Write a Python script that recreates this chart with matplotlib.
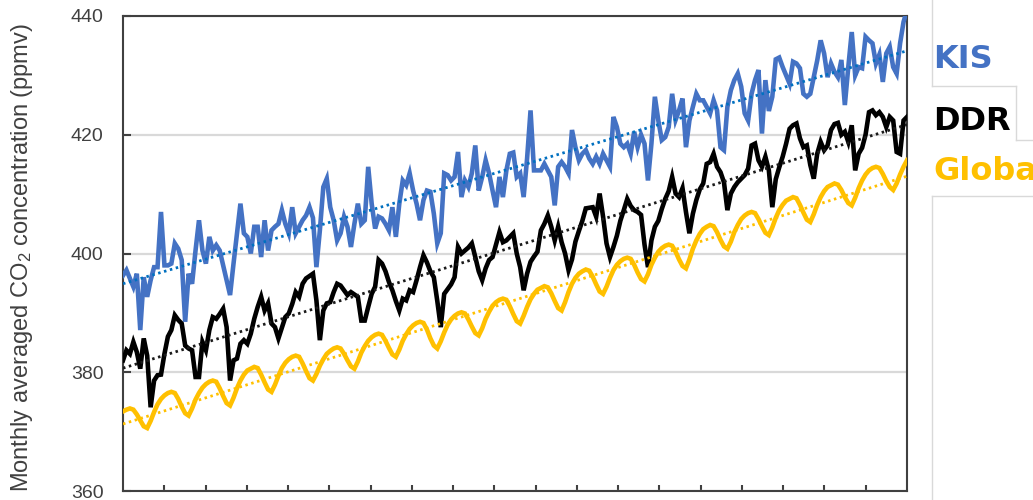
import numpy as np
import matplotlib
matplotlib.use("Agg")
import matplotlib.pyplot as plt
from matplotlib.lines import Line2D

plt.rcParams['font.family'] = ['Liberation Sans', 'DejaVu Sans']
plt.rcParams['mathtext.default'] = 'regular'

# Monthly averaged CO2 (ppmv), 19 years x 12 months
kis = [
    396.3, 397.2, 395.8, 394.4, 396.6, 387.1, 396.0, 392.7, 395.5, 397.7, 397.7, 407.0,
    398.0, 398.0, 398.3, 401.7, 400.8, 398.9, 388.5, 396.6, 394.9, 400.5, 405.6, 400.5,
    398.3, 402.8, 400.5, 401.4, 400.5, 398.0, 395.5, 393.0, 398.3, 403.4, 408.4, 403.4,
    402.8, 400.0, 404.5, 404.5, 399.4, 405.6, 400.5, 403.9, 404.5, 405.0, 407.3, 405.0,
    403.4, 407.8, 403.4, 404.5, 405.6, 406.4, 407.8, 406.0, 397.7, 403.9, 411.2, 412.6,
    407.8, 405.6, 402.2, 403.4, 406.2, 404.5, 401.1, 405.0, 408.4, 405.0, 405.6, 414.6,
    408.4, 404.2, 406.2, 405.9, 405.0, 403.9, 407.8, 402.8, 408.4, 412.3, 411.5, 413.5,
    410.6, 408.4, 405.6, 409.0, 410.6, 410.4, 406.7, 401.7, 403.4, 413.5, 413.2, 412.3,
    412.9, 417.1, 409.5, 412.3, 411.2, 413.5, 418.2, 410.6, 412.9, 415.7, 413.5, 410.6,
    407.8, 412.9, 409.5, 414.0, 416.8, 417.0, 412.9, 413.5, 409.5, 416.0, 424.1, 414.0,
    414.0, 414.0, 415.1, 414.0, 412.9, 408.1, 414.6, 415.4, 414.6, 413.5, 420.8, 417.9,
    415.7, 416.8, 417.4, 416.0, 415.1, 416.3, 415.1, 416.8, 415.7, 414.6, 423.0, 421.3,
    418.5, 417.9, 418.5, 416.8, 420.5, 417.9, 420.0, 418.5, 412.3, 418.5, 426.4, 422.4,
    419.1, 419.6, 421.3, 426.9, 422.5, 424.1, 426.1, 417.9, 422.4, 424.7, 426.9, 425.8,
    425.8, 424.7, 423.6, 425.8, 424.1, 417.9, 417.4, 424.7, 427.5, 429.2, 430.3, 428.1,
    423.6, 422.4, 426.9, 429.2, 430.9, 420.2, 429.2, 424.0, 426.4, 432.7, 433.0, 431.4,
    430.0, 428.6, 432.3, 432.0, 431.2, 426.9, 426.4, 426.9, 429.7, 432.5, 435.9, 433.7,
    429.7, 432.0, 430.6, 429.7, 432.6, 425.0, 431.4, 437.3, 430.0, 431.4, 431.2, 436.5,
    435.9, 435.4, 432.0, 433.5, 428.9, 433.7, 434.8, 431.4, 430.3, 435.4, 439.0, 441.0,
]
ddr = [
    382.0, 383.7, 383.1, 385.1, 383.4, 380.6, 385.7, 382.8, 374.1, 378.6, 379.5, 379.6,
    383.1, 386.0, 387.1, 389.6, 388.8, 388.2, 384.5, 384.0, 383.7, 379.2, 379.2, 385.1,
    383.7, 387.1, 389.3, 389.0, 389.8, 390.7, 387.6, 378.6, 382.0, 382.3, 384.8, 385.4,
    384.8, 386.5, 389.0, 391.0, 392.7, 390.4, 391.6, 388.2, 387.6, 385.7, 387.5, 389.3,
    389.9, 391.5, 393.5, 392.7, 394.9, 395.8, 396.2, 396.6, 392.1, 385.4, 390.4, 391.6,
    391.8, 393.5, 394.9, 394.6, 393.8, 393.0, 393.5, 393.1, 392.7, 388.7, 388.7, 391.0,
    393.2, 394.4, 398.9, 398.3, 397.0, 395.2, 393.8, 392.0, 390.4, 392.4, 392.1, 393.8,
    393.5, 395.5, 397.7, 399.7, 398.5, 397.0, 396.0, 392.0, 387.6, 393.2, 394.0, 394.8,
    396.0, 401.1, 400.0, 400.5, 401.0, 401.7, 399.4, 397.0, 395.5, 397.5, 398.9, 399.4,
    401.5, 403.6, 401.9, 402.2, 402.8, 403.4, 400.0, 397.7, 393.8, 396.6, 398.6, 399.5,
    400.3, 403.9, 405.0, 406.4, 404.5, 402.2, 404.5, 401.9, 400.0, 397.2, 399.0, 402.0,
    403.8, 405.5, 407.6, 407.7, 407.8, 406.2, 410.1, 406.2, 401.7, 399.4, 401.1, 403.0,
    405.5, 407.3, 409.2, 408.0, 407.3, 407.0, 406.5, 401.5, 397.7, 402.2, 404.5, 405.5,
    407.5, 409.2, 410.5, 412.9, 410.1, 409.5, 411.0, 407.0, 403.4, 406.7, 409.0, 410.8,
    411.8, 415.1, 415.4, 416.8, 414.6, 413.7, 412.0, 407.3, 410.1, 411.2, 412.0, 412.6,
    413.2, 414.3, 418.2, 418.5, 415.7, 414.6, 416.3, 414.0, 407.8, 412.5, 414.5, 416.3,
    418.5, 421.0, 421.6, 421.9, 419.4, 417.9, 418.2, 414.9, 412.6, 416.8, 418.8, 417.4,
    418.2, 420.8, 421.8, 422.0, 420.0, 420.5, 418.8, 421.6, 414.0, 416.8, 417.8, 420.0,
    423.8, 424.1, 423.3, 423.8, 423.0, 421.3, 423.0, 422.4, 417.1, 416.8, 422.4, 423.0,
]
global_co2 = [
    373.4, 373.7, 373.9, 373.7, 372.9, 371.9, 370.9, 370.6, 371.8, 373.3, 374.6, 375.5,
    376.1, 376.5, 376.7, 376.5, 375.5, 374.2, 373.1, 372.7, 373.9, 375.4, 376.5, 377.4,
    378.0, 378.4, 378.6, 378.4, 377.3, 376.0, 374.8, 374.4, 375.7, 377.3, 378.6, 379.6,
    380.3, 380.6, 380.9, 380.7, 379.6, 378.3, 377.1, 376.7, 377.9, 379.4, 380.7, 381.6,
    382.2, 382.6, 382.8, 382.6, 381.5, 380.2, 379.0, 378.6, 379.7, 381.1, 382.2, 383.1,
    383.6, 384.0, 384.2, 384.0, 383.1, 382.0, 381.0, 380.6, 381.8, 383.3, 384.4, 385.3,
    385.9, 386.3, 386.5, 386.3, 385.3, 384.1, 383.0, 382.6, 383.8, 385.3, 386.4, 387.3,
    387.9, 388.3, 388.5, 388.3, 387.2, 385.7, 384.5, 384.0, 385.2, 386.7, 388.0, 388.9,
    389.5, 389.9, 390.1, 389.9, 388.9, 387.7, 386.6, 386.2, 387.4, 389.0, 390.2, 391.2,
    391.8, 392.2, 392.4, 392.2, 391.1, 389.8, 388.6, 388.2, 389.5, 391.0, 392.3, 393.2,
    393.9, 394.2, 394.5, 394.3, 393.3, 392.0, 390.8, 390.4, 391.8, 393.5, 394.9, 395.9,
    396.6, 397.0, 397.3, 397.1, 396.1, 394.8, 393.6, 393.2, 394.4, 395.9, 397.2, 398.1,
    398.7, 399.1, 399.3, 399.1, 398.1, 396.8, 395.7, 395.3, 396.5, 398.1, 399.3, 400.3,
    400.9, 401.3, 401.5, 401.3, 400.3, 399.0, 397.9, 397.5, 399.0, 400.8, 402.2, 403.3,
    404.1, 404.5, 404.8, 404.6, 403.6, 402.3, 401.2, 400.8, 402.0, 403.6, 404.8, 405.8,
    406.4, 406.8, 407.0, 406.8, 405.8, 404.6, 403.5, 403.1, 404.4, 406.0, 407.3, 408.2,
    408.9, 409.2, 409.5, 409.3, 408.2, 406.9, 405.7, 405.3, 406.6, 408.2, 409.5, 410.5,
    411.2, 411.5, 411.8, 411.6, 410.7, 409.5, 408.5, 408.1, 409.4, 411.0, 412.3, 413.3,
    414.0, 414.4, 414.6, 414.4, 413.4, 412.2, 411.2, 410.7, 411.8, 413.3, 414.6, 415.7,
]
series_names = ["KIS", "DDR", "Global"]
series_colors = ["#4472C4", "#000000", "#FFC000"]
trend_colors = ["#0070C0", "#1A1A1A", "#FFC000"]
n_years = 19

W, H = 1033, 500
fig = plt.figure(figsize=(W / 100, H / 100), dpi=100)
ax = fig.add_axes([123 / W, 9 / H, 784 / W, 475 / H])

x = np.arange(len(kis))
for vals, col in zip([kis, ddr, global_co2], series_colors):
    ax.plot(x, vals, color=col, lw=3.3, solid_joinstyle="miter", zorder=3)

# dotted linear trend lines
for vals, col in zip([kis, ddr, global_co2], trend_colors):
    k, b = np.polyfit(x, vals, 1)
    ax.plot(x, k * x + b, color=col, lw=2.0, linestyle=(0, (0.9, 1.3)), zorder=4)

ax.set_xlim(0, len(kis) - 1)
ax.set_ylim(360, 440)
ax.set_yticks([360, 380, 400, 420, 440])
ax.set_xticks([(len(kis) - 1) * j / n_years for j in range(1, n_years)])
ax.set_xticklabels([])
ax.grid(axis="y", color="#D9D9D9", lw=1.6, zorder=0)
ax.tick_params(axis="y", direction="in", length=6, width=1.5, color="#404040",
               labelsize=14, labelcolor="#404040", pad=14)
ax.tick_params(axis="x", direction="in", length=4, width=1.5, color="#404040")
for s in ax.spines.values():
    s.set_color("#404040")
    s.set_linewidth(1.5)

fig.text(22 / W, 1 - 258 / H, "Monthly averaged CO$_2$ concentration (ppmv)",
         rotation=90, ha="center", va="center", fontsize=17, color="#404040")

# labels at the right, in text boxes
label_base = [68, 130, 180]
for name, col, yb in zip(series_names, series_colors, label_base):
    fig.text(933 / W, 1 - yb / H, name, fontsize=23, fontweight="bold", color=col,
             family="DejaVu Sans", ha="left", va="baseline")

box_lines = [((932, 0), (932, 86)), ((932, 86), (1016, 86)), ((1016, 86), (1016, 140)),
             ((1016, 140), (1033, 140)), ((932, 196), (1033, 196)), ((932, 196), (932, 500))]
for (x0, y0), (x1, y1) in box_lines:
    fig.add_artist(Line2D([x0 / W, x1 / W], [1 - y0 / H, 1 - y1 / H],
                          transform=fig.transFigure, color="#D9D9D9", lw=1))

fig.savefig("out.png", dpi=100)
